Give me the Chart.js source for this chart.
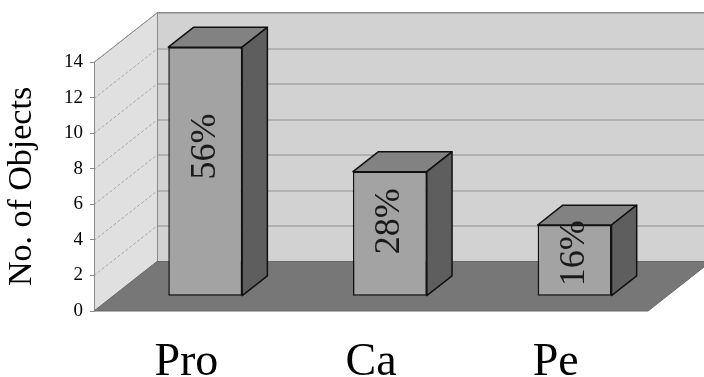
<!DOCTYPE html>
<html>
<head>
<meta charset="utf-8">
<script src="https://cdn.jsdelivr.net/npm/chart.js@4/dist/chart.umd.min.js"></script>
<style>
  html, body { margin: 0; padding: 0; background: #ffffff; }
  canvas { display: block; }
</style>
</head>
<body>
<canvas id="chart" width="704" height="377"></canvas>
<script>
// Object counts per class
const categories = ['Pro', 'Ca', 'Pe'];
const objectCounts = [14, 7, 4];
const yTicks = [0, 2, 4, 6, 8, 10, 12, 14];
const axisTitle = 'No. of Objects';

// Share of all objects, shown inside each bar
const total = objectCounts.reduce((a, b) => a + b, 0);
const shareLabels = objectCounts.map(v => Math.round(v / total * 100) + '%');

const serif = '"Liberation Serif", "Times New Roman", serif';

// Perspective of the box: wall depth offset and where the bars sit inside it
const DEPTH = { dx: 63, dy: -49.5, front: 0.3, back: 0.7 };

function poly(ctx, pts, fill, stroke, lw) {
  ctx.beginPath();
  ctx.moveTo(pts[0][0], pts[0][1]);
  for (let i = 1; i < pts.length; i++) ctx.lineTo(pts[i][0], pts[i][1]);
  ctx.closePath();
  if (fill) { ctx.fillStyle = fill; ctx.fill(); }
  if (stroke) { ctx.strokeStyle = stroke; ctx.lineWidth = lw || 1; ctx.stroke(); }
}

const box3d = {
  id: 'box3d',
  beforeDraw(chart) {
    const { ctx, chartArea: a, scales: { y } } = chart;
    const { dx, dy } = DEPTH;
    const top = y.getPixelForValue(y.max);
    const bot = y.getPixelForValue(y.min);
    ctx.save();
    ctx.fillStyle = '#ffffff';
    ctx.fillRect(0, 0, chart.width, chart.height);

    // back wall
    ctx.fillStyle = '#d2d2d2';
    ctx.fillRect(a.left + dx, top + dy, a.right - a.left, bot - top);

    // side wall
    poly(ctx, [[a.left, top], [a.left + dx, top + dy], [a.left + dx, bot + dy], [a.left, bot]], '#e0e0e0');

    // grid lines on both walls
    yTicks.forEach(v => {
      const py = Math.round(y.getPixelForValue(v)) + 0.5;
      ctx.setLineDash([]);
      ctx.strokeStyle = '#8e8e8e';
      ctx.lineWidth = 1;
      ctx.beginPath();
      ctx.moveTo(a.left + dx, py + dy);
      ctx.lineTo(a.right + dx, py + dy);
      ctx.stroke();
      ctx.setLineDash([3, 2]);
      ctx.strokeStyle = '#a6a6a6';
      ctx.beginPath();
      ctx.moveTo(a.left, py);
      ctx.lineTo(a.left + dx, py + dy);
      ctx.stroke();
    });
    ctx.setLineDash([]);

    // wall edges
    ctx.strokeStyle = '#8a8a8a';
    ctx.lineWidth = 1;
    ctx.beginPath();
    ctx.moveTo(a.left + 0.5, bot);
    ctx.lineTo(a.left + 0.5, top);
    ctx.lineTo(a.left + dx + 0.5, top + dy);
    ctx.lineTo(a.right + dx, top + dy);
    ctx.moveTo(a.left + dx + 0.5, top + dy);
    ctx.lineTo(a.left + dx + 0.5, bot + dy);
    ctx.stroke();

    // floor
    poly(ctx, [[a.left, bot], [a.right, bot], [a.right + dx, bot + dy], [a.left + dx, bot + dy]], '#777777', '#686868', 1);
    ctx.restore();
  },
  beforeDatasetsDraw(chart) {
    const { dx, dy, front } = DEPTH;
    chart.ctx.save();
    chart.ctx.translate(dx * front, dy * front);
  },
  afterDatasetsDraw(chart) {
    const ctx = chart.ctx;
    ctx.restore();
    const { dx, dy, front, back } = DEPTH;
    const fx = dx * front, fy = dy * front;
    const ddx = dx * (back - front), ddy = dy * (back - front);
    const meta = chart.getDatasetMeta(0);
    meta.data.forEach((bar, i) => {
      const p = bar.getProps(['x', 'y', 'base', 'width'], true);
      const x0 = p.x - p.width / 2 + fx, x1 = p.x + p.width / 2 + fx;
      const yt = p.y + fy, yb = p.base + fy;
      ctx.save();
      ctx.lineJoin = 'round';
      poly(ctx, [[x0, yt], [x1, yt], [x1 + ddx, yt + ddy], [x0 + ddx, yt + ddy]], '#828282', '#111', 1.5);
      poly(ctx, [[x1, yt], [x1 + ddx, yt + ddy], [x1 + ddx, yb + ddy], [x1, yb]], '#5e5e5e', '#111', 1.5);

      // share label, rotated to read upward
      ctx.translate(p.x + fx, yt + 0.4 * (yb - yt));
      ctx.rotate(-Math.PI / 2);
      ctx.font = '36px ' + serif;
      ctx.fillStyle = '#1a1a1a';
      ctx.textAlign = 'center';
      ctx.textBaseline = 'middle';
      ctx.fillText(shareLabels[i], 0, 0);
      ctx.restore();
    });
  }
};

new Chart(document.getElementById('chart'), {
  type: 'bar',
  data: {
    labels: categories,
    datasets: [{
      data: objectCounts,
      backgroundColor: '#a3a3a3',
      borderColor: '#111111',
      borderWidth: 1.5,
      borderSkipped: false,
      categoryPercentage: 1,
      barPercentage: 0.4,
      clip: false
    }]
  },
  options: {
    responsive: false,
    animation: false,
    events: [],
    layout: { padding: { top: 62, right: 56, left: 0, bottom: 0 } },
    plugins: { legend: { display: false }, tooltip: { enabled: false } },
    scales: {
      x: {
        grid: { display: false },
        border: { display: false },
        ticks: { color: '#000', font: { family: serif, size: 46 }, padding: 16, maxRotation: 0 },
        afterFit: s => { s.height = 66; }
      },
      y: {
        min: 0,
        max: 14,
        afterBuildTicks: s => { s.ticks = yTicks.map(v => ({ value: v })); },
        grid: { drawOnChartArea: false, drawTicks: true, tickLength: 4, color: '#8a8a8a' },
        border: { display: false },
        ticks: { color: '#000', font: { family: serif, size: 19 }, padding: 7 },
        title: { display: true, text: axisTitle, color: '#000', font: { family: serif, size: 34 }, padding: { top: 2, bottom: 0 } },
        afterFit: s => { s.width = 94; }
      }
    }
  },
  plugins: [box3d]
});
</script>
</body>
</html>
